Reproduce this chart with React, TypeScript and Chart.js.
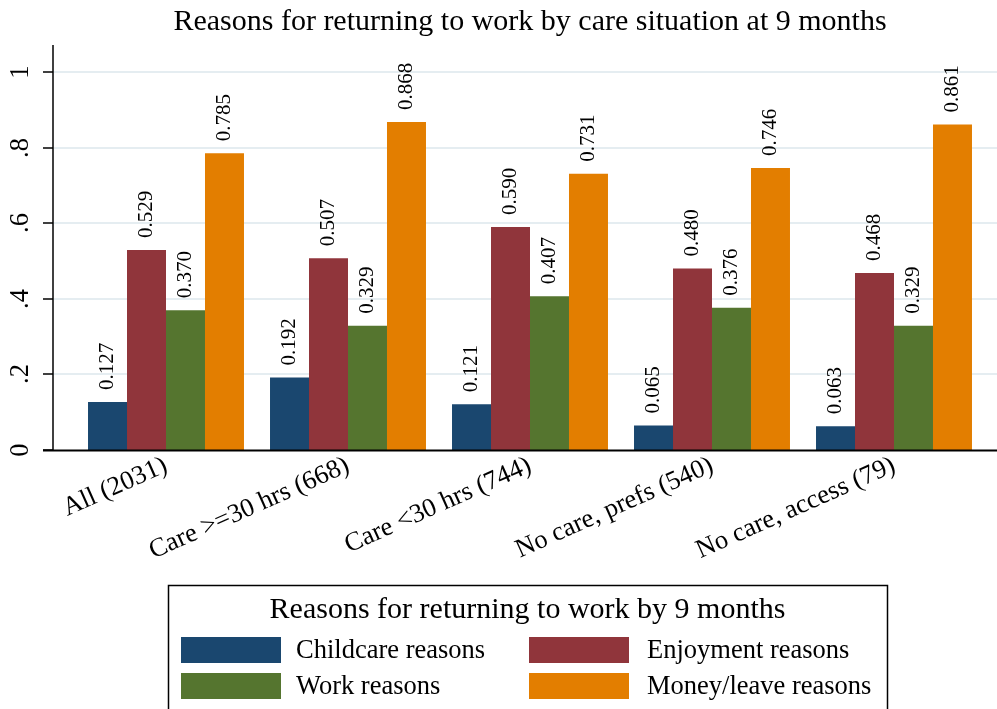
import { useEffect, useRef } from "react";
import { Chart, registerables } from "chart.js";

Chart.register(...registerables);

const FONT = "'Liberation Serif', 'Times New Roman', Times, serif";

const categories = [
  "All (2031)",
  "Care >=30 hrs (668)",
  "Care <30 hrs (744)",
  "No care, prefs (540)",
  "No care, access (79)",
];

const seriesLabels = [
  "Childcare reasons",
  "Enjoyment reasons",
  "Work reasons",
  "Money/leave reasons",
];

const childcare = [0.127, 0.192, 0.121, 0.065, 0.063];
const enjoyment = [0.529, 0.507, 0.59, 0.48, 0.468];
const work = [0.37, 0.329, 0.407, 0.376, 0.329];
const money = [0.785, 0.868, 0.731, 0.746, 0.861];

const seriesColors = ["#1a476f", "#90353b", "#55752f", "#e37e00"];

const yTicks = [0, 0.2, 0.4, 0.6, 0.8, 1];
const yTickLabels = ["0", ".2", ".4", ".6", ".8", "1"];

const chartTitle = "Reasons for returning to work by care situation at 9 months";
const legendTitle = "Reasons for returning to work by 9 months";

const stataPlugin = {
  id: "stataDecor",
  beforeDatasetsDraw(chart: any) {
    const { ctx, chartArea, scales } = chart;
    const y = scales.y;
    const left = chartArea.left - 22;
    const right = chart.width;
    ctx.save();
    ctx.strokeStyle = "#e5edf1";
    ctx.lineWidth = 2;
    yTicks.forEach((v) => {
      if (v === 0) return;
      const py = Math.round(y.getPixelForValue(v));
      ctx.beginPath();
      ctx.moveTo(left, py);
      ctx.lineTo(right, py);
      ctx.stroke();
    });
    ctx.restore();
  },
  afterDatasetsDraw(chart: any) {
    const { ctx, chartArea, scales } = chart;
    const y = scales.y;
    const axisX = chartArea.left - 22;
    const y0 = y.getPixelForValue(0);
    ctx.save();
    // y axis line
    ctx.strokeStyle = "#000";
    ctx.lineWidth = 1.5;
    ctx.beginPath();
    ctx.moveTo(axisX, chartArea.top);
    ctx.lineTo(axisX, y0 + 1);
    ctx.stroke();
    // y tick marks + labels
    ctx.font = `26.5px ${FONT}`;
    ctx.fillStyle = "#000";
    ctx.textAlign = "center";
    ctx.textBaseline = "middle";
    yTicks.forEach((v, i) => {
      const py = Math.round(y.getPixelForValue(v));
      ctx.beginPath();
      ctx.moveTo(axisX - 10, py);
      ctx.lineTo(axisX, py);
      ctx.stroke();
      ctx.save();
      ctx.translate(axisX - 32, py);
      ctx.rotate(-Math.PI / 2);
      ctx.fillText(yTickLabels[i], 0, 0);
      ctx.restore();
    });
    // x axis line
    ctx.lineWidth = 2;
    ctx.beginPath();
    ctx.moveTo(axisX - 10, y0 + 0.5);
    ctx.lineTo(chart.width, y0 + 0.5);
    ctx.stroke();
    // value labels
    ctx.font = `21px ${FONT}`;
    ctx.textAlign = "left";
    ctx.textBaseline = "middle";
    chart.data.datasets.forEach((ds: any, di: number) => {
      const meta = chart.getDatasetMeta(di);
      meta.data.forEach((bar: any, i: number) => {
        const v = ds.data[i];
        ctx.save();
        ctx.translate(bar.x, bar.y - 12);
        ctx.rotate(-Math.PI / 2);
        ctx.fillText(v.toFixed(3), 0, 0);
        ctx.restore();
      });
    });
    ctx.restore();
  },
  afterDraw(chart: any) {
    const { ctx } = chart;
    const lx = 168;
    const ly = 585;
    const lw = 719;
    ctx.save();
    ctx.strokeStyle = "#000";
    ctx.lineWidth = 1.5;
    ctx.strokeRect(lx + 0.5, ly + 0.5, lw, 160);
    ctx.fillStyle = "#000";
    ctx.textAlign = "center";
    ctx.textBaseline = "middle";
    ctx.font = `30px ${FONT}`;
    ctx.fillText(legendTitle, lx + lw / 2, 610);
    const colX = [181, 529];
    const textX = [296, 647];
    const rowY = [637, 673];
    ctx.font = `26.5px ${FONT}`;
    ctx.textAlign = "left";
    chart.data.datasets.forEach((ds: any, di: number) => {
      const c = di % 2;
      const r = Math.floor(di / 2);
      ctx.fillStyle = ds.backgroundColor;
      ctx.fillRect(colX[c], rowY[r], 100, 26);
      ctx.fillStyle = "#000";
      ctx.fillText(ds.label, textX[c], rowY[r] + 14);
    });
    ctx.restore();
  },
};

export default function App() {
  const canvasRef = useRef<HTMLCanvasElement | null>(null);

  useEffect(() => {
    const canvas = canvasRef.current;
    if (!canvas) return;
    const seriesData = [childcare, enjoyment, work, money];
    const chart = new Chart(canvas, {
      type: "bar",
      data: {
        labels: categories,
        datasets: seriesData.map((d, i) => ({
          label: seriesLabels[i],
          data: d,
          backgroundColor: seriesColors[i],
          borderWidth: 0,
          categoryPercentage: 0.857,
          barPercentage: 1,
        })),
      },
      options: {
        responsive: false,
        animation: false,
        devicePixelRatio: 1,
        layout: { padding: { left: 75, right: 12, top: 0, bottom: 0 } },
        plugins: {
          legend: { display: false },
          tooltip: { enabled: false },
          title: {
            display: true,
            text: chartTitle,
            color: "#000",
            font: { family: FONT, size: 30, weight: "normal" },
            padding: { top: 4, bottom: 5 },
          },
        },
        scales: {
          x: {
            grid: { display: false, drawTicks: false },
            border: { display: false },
            ticks: {
              autoSkip: false,
              minRotation: 24,
              maxRotation: 24,
              padding: 0,
              color: "#000",
              font: { family: FONT, size: 26.5 },
            },
            afterFit(scale: any) {
              scale.height = 259;
              scale.paddingLeft = 0;
              scale.paddingRight = 0;
            },
          },
          y: {
            display: false,
            min: 0,
            max: 1.0714,
          },
        },
      },
      plugins: [stataPlugin],
    });
    return () => chart.destroy();
  }, []);

  return (
    <div
      style={{
        position: "fixed",
        left: 0,
        top: 0,
        width: 997,
        height: 709,
        background: "#fff",
      }}
    >
      <canvas ref={canvasRef} width={997} height={709} />
    </div>
  );
}
